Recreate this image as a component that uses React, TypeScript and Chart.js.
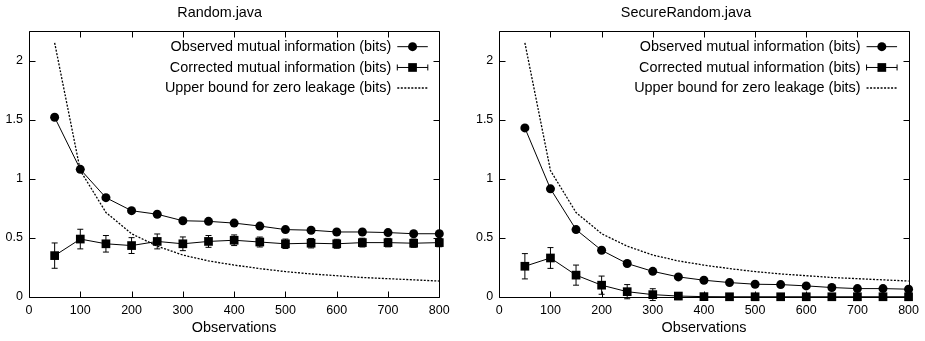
import React, { useEffect, useRef } from 'react';
import { Chart, registerables } from 'chart.js';

Chart.register(...registerables);

// ---- data ----
const observations = [50, 100, 150, 200, 250, 300, 350, 400, 450, 500, 550, 600, 650, 700, 750, 800];
const xTickValues = [0, 100, 200, 300, 400, 500, 600, 700, 800];
const yTickValues = [0, 0.5, 1, 1.5, 2];
const legendLabels = [
  'Observed mutual information (bits)',
  'Corrected mutual information (bits)',
  'Upper bound for zero leakage (bits)',
];

const upperBound = [2.15, 1.07, 0.715, 0.535, 0.43, 0.355, 0.305, 0.27, 0.24, 0.215, 0.195, 0.18, 0.165, 0.155, 0.145, 0.135];

const randomObserved = [1.52, 1.08, 0.84, 0.73, 0.7, 0.645, 0.64, 0.625, 0.6, 0.57, 0.565, 0.55, 0.55, 0.545, 0.535, 0.535];
const randomCorrected = [0.35, 0.49, 0.45, 0.435, 0.47, 0.45, 0.47, 0.48, 0.465, 0.45, 0.455, 0.45, 0.46, 0.46, 0.455, 0.46];
const randomError = [0.107, 0.083, 0.07, 0.067, 0.063, 0.058, 0.05, 0.045, 0.042, 0.04, 0.04, 0.038, 0.037, 0.036, 0.035, 0.035];

const secureObserved = [1.43, 0.915, 0.57, 0.395, 0.283, 0.217, 0.17, 0.142, 0.122, 0.108, 0.105, 0.094, 0.08, 0.071, 0.071, 0.066];
const secureCorrected = [0.26, 0.33, 0.185, 0.1, 0.045, 0.02, 0.008, 0.003, 0.002, 0.002, 0.002, 0.002, 0.002, 0.002, 0.002, 0.002];
const secureError = [0.107, 0.088, 0.085, 0.077, 0.06, 0.05, 0.03, 0.02, 0.015, 0.012, 0.01, 0.01, 0.01, 0.01, 0.01, 0.01];

const FONT = '"Liberation Sans", Arial, Helvetica, sans-serif';

const errorBarPlugin = {
  id: 'errorBars',
  afterDatasetsDraw(chart: any) {
    const ctx = chart.ctx;
    const xs = chart.scales.x;
    const ys = chart.scales.y;
    chart.data.datasets.forEach((ds: any) => {
      if (!ds.errors) return;
      ctx.save();
      ctx.strokeStyle = '#000';
      ctx.lineWidth = 1;
      ds.data.forEach((p: any, i: number) => {
        const e = ds.errors[i];
        const x = xs.getPixelForValue(p.x);
        const y1 = ys.getPixelForValue(p.y + e);
        const y2 = ys.getPixelForValue(p.y - e);
        ctx.beginPath();
        ctx.moveTo(x, y1);
        ctx.lineTo(x, y2);
        ctx.moveTo(x - 3, y1);
        ctx.lineTo(x + 3, y1);
        ctx.moveTo(x - 3, y2);
        ctx.lineTo(x + 3, y2);
        ctx.stroke();
      });
      ctx.restore();
    });
  },
};

const framePlugin = {
  id: 'gnuFrame',
  afterDraw(chart: any) {
    const ctx = chart.ctx;
    const { left, right, top, bottom } = chart.chartArea;
    const xs = chart.scales.x;
    const ys = chart.scales.y;
    ctx.save();
    ctx.strokeStyle = '#000';
    ctx.lineWidth = 1;
    const L = Math.round(left) + 0.5;
    const R = Math.round(right) + 0.5;
    const T = Math.round(top) + 0.5;
    const B = Math.round(bottom) + 0.5;
    ctx.beginPath();
    ctx.rect(L, T, R - L, B - T);
    ctx.stroke();
    ctx.beginPath();
    xs.ticks.forEach((t: any) => {
      const x = Math.round(xs.getPixelForValue(t.value)) + 0.5;
      ctx.moveTo(x, B);
      ctx.lineTo(x, B - 6);
      ctx.moveTo(x, T);
      ctx.lineTo(x, T + 6);
    });
    ys.ticks.forEach((t: any) => {
      const y = Math.round(ys.getPixelForValue(t.value)) + 0.5;
      ctx.moveTo(L, y);
      ctx.lineTo(L + 6, y);
      ctx.moveTo(R, y);
      ctx.lineTo(R - 6, y);
    });
    ctx.stroke();

    // legend
    ctx.font = `14.4px ${FONT}`;
    ctx.fillStyle = '#000';
    ctx.textAlign = 'right';
    ctx.textBaseline = 'middle';
    const rowsY = [top + 15.7, top + 36.5, top + 57];
    const textX = right - 48;
    const s0 = right - 42;
    const s1 = right - 11.5;
    const mid = (s0 + s1) / 2;
    chart.data.datasets.forEach((ds: any, i: number) => {
      const y = rowsY[i];
      ctx.fillText(ds.label, textX, y + 0.5);
      ctx.beginPath();
      ctx.lineWidth = ds.borderWidth || 1;
      ctx.setLineDash(ds.borderDash || []);
      ctx.moveTo(s0, y);
      ctx.lineTo(s1, y);
      ctx.stroke();
      ctx.setLineDash([]);
      ctx.lineWidth = 1;
      if (i === 0) {
        ctx.beginPath();
        ctx.arc(mid, y, 4.5, 0, Math.PI * 2);
        ctx.fill();
      } else if (i === 1) {
        ctx.beginPath();
        ctx.moveTo(s0, y - 3);
        ctx.lineTo(s0, y + 3);
        ctx.moveTo(s1, y - 3);
        ctx.lineTo(s1, y + 3);
        ctx.stroke();
        ctx.fillRect(mid - 4.35, y - 4.35, 8.7, 8.7);
      }
    });
    ctx.restore();
  },
};

type PanelProps = {
  title: string;
  observed: number[];
  corrected: number[];
  errors: number[];
  yAxisWidth: number;
  rightPad: number;
  width: number;
  left: number;
};

function Panel({ title, observed, corrected, errors, yAxisWidth, rightPad, width, left }: PanelProps) {
  const ref = useRef<HTMLCanvasElement | null>(null);
  useEffect(() => {
    if (!ref.current) return;
    const chart = new Chart(ref.current, {
      type: 'line',
      data: {
        datasets: [
          {
            label: legendLabels[0],
            data: observations.map((x, i) => ({ x, y: observed[i] })),
            borderColor: '#000',
            backgroundColor: '#000',
            borderWidth: 1,
            pointStyle: 'circle',
            pointRadius: 4.5,
            pointBorderWidth: 0,
            tension: 0,
            clip: false,
          } as any,
          {
            label: legendLabels[1],
            data: observations.map((x, i) => ({ x, y: corrected[i] })),
            errors,
            borderColor: '#000',
            backgroundColor: '#000',
            borderWidth: 1,
            pointStyle: 'rect',
            pointRadius: 6.15,
            pointBorderWidth: 0,
            tension: 0,
            clip: false,
          } as any,
          {
            label: legendLabels[2],
            data: observations.map((x, i) => ({ x, y: upperBound[i] })),
            borderColor: '#000',
            borderWidth: 1.3,
            borderDash: [2, 1.5],
            pointRadius: 0,
            tension: 0,
            clip: false,
          } as any,
        ],
      },
      options: {
        responsive: false,
        animation: false,
        layout: { padding: { left: 0, right: rightPad, top: 0, bottom: 0 } },
        plugins: {
          legend: { display: false },
          tooltip: { enabled: false },
          title: {
            display: true,
            text: title,
            color: '#000',
            font: { family: FONT, size: 14.4, weight: 'normal' },
            padding: { top: 4.7, bottom: 9 },
          },
        },
        scales: {
          x: {
            type: 'linear',
            min: 0,
            max: 800,
            afterBuildTicks: (s: any) => {
              s.ticks = xTickValues.map((v) => ({ value: v }));
            },
            afterFit: (s: any) => {
              s.height = 44;
            },
            grid: { display: false, drawTicks: false },
            border: { display: false },
            ticks: {
              color: '#000',
              padding: 6,
              autoSkip: false,
              maxRotation: 0,
              font: { family: FONT, size: 12.5 },
              callback: (v: any) => String(v),
            },
            title: {
              display: true,
              text: 'Observations',
              color: '#000',
              font: { family: FONT, size: 14.4 },
              padding: { top: 0, bottom: 4 },
            },
          },
          y: {
            type: 'linear',
            min: 0,
            max: 2.25,
            afterBuildTicks: (s: any) => {
              s.ticks = yTickValues.map((v) => ({ value: v }));
            },
            afterFit: (s: any) => {
              s.width = yAxisWidth;
            },
            grid: { display: false, drawTicks: false },
            border: { display: false },
            ticks: {
              color: '#000',
              padding: 6,
              font: { family: FONT, size: 12.5 },
              callback: (v: any) => String(v),
            },
          },
        },
      } as any,
      plugins: [errorBarPlugin, framePlugin],
    });
    return () => chart.destroy();
  }, []);
  return (
    <canvas
      ref={ref}
      width={width}
      height={341}
      style={{ position: 'absolute', left, top: 0, width, height: 341 }}
    />
  );
}

export default function App() {
  return (
    <div style={{ position: 'fixed', left: 0, top: 0, width: 925, height: 341, background: '#fff' }}>
      <Panel
        title="Random.java"
        observed={randomObserved}
        corrected={randomCorrected}
        errors={randomError}
        yAxisWidth={29}
        rightPad={22.7}
        width={462}
        left={0}
      />
      <Panel
        title="SecureRandom.java"
        observed={secureObserved}
        corrected={secureCorrected}
        errors={secureError}
        yAxisWidth={37.3}
        rightPad={15}
        width={463}
        left={462}
      />
    </div>
  );
}
